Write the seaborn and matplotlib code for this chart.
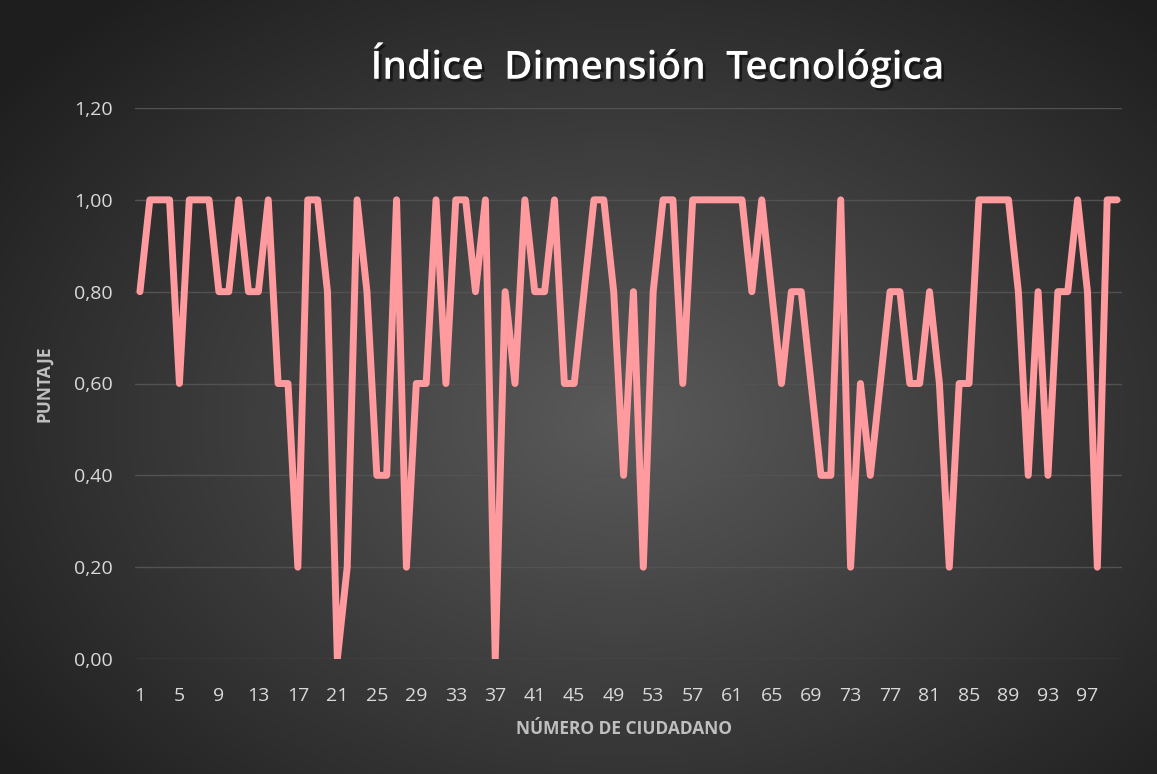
import numpy as np
import pandas as pd
import matplotlib
matplotlib.use('Agg')
import matplotlib.pyplot as plt
import matplotlib.patheffects as pe
from matplotlib.colors import LinearSegmentedColormap
import seaborn as sns

# datos
ciudadano = list(range(1, 101))
puntaje = [
    0.8, 1.0, 1.0, 1.0, 0.6, 1.0, 1.0, 1.0, 0.8, 0.8,
    1.0, 0.8, 0.8, 1.0, 0.6, 0.6, 0.2, 1.0, 1.0, 0.8,
    0.0, 0.2, 1.0, 0.8, 0.4, 0.4, 1.0, 0.2, 0.6, 0.6,
    1.0, 0.6, 1.0, 1.0, 0.8, 1.0, 0.0, 0.8, 0.6, 1.0,
    0.8, 0.8, 1.0, 0.6, 0.6, 0.8, 1.0, 1.0, 0.8, 0.4,
    0.8, 0.2, 0.8, 1.0, 1.0, 0.6, 1.0, 1.0, 1.0, 1.0,
    1.0, 1.0, 0.8, 1.0, 0.8, 0.6, 0.8, 0.8, 0.6, 0.4,
    0.4, 1.0, 0.2, 0.6, 0.4, 0.6, 0.8, 0.8, 0.6, 0.6,
    0.8, 0.6, 0.2, 0.6, 0.6, 1.0, 1.0, 1.0, 1.0, 0.8,
    0.4, 0.8, 0.4, 0.8, 0.8, 1.0, 0.8, 0.2, 1.0, 1.0,
]
x_ticks = list(range(1, 101, 4))
y_ticks = [0.0, 0.2, 0.4, 0.6, 0.8, 1.0, 1.2]

titulo = 'Índice  Dimensión  Tecnológica'
x_label = 'NÚMERO DE CIUDADANO'
y_label = 'PUNTAJE'

df = pd.DataFrame({'ciudadano': ciudadano, 'puntaje': puntaje})

sns.set_theme(style='dark')
plt.rcParams['font.family'] = ['Open Sans', 'DejaVu Sans']

W, H = 1157, 774
fig = plt.figure(figsize=(W / 100, H / 100), dpi=100)

# fondo con degradado radial
bg = fig.add_axes([0, 0, 1, 1], zorder=0)
yy, xx = np.mgrid[0:H, 0:W]
r = np.sqrt(((xx - 620) / 780) ** 2 + ((yy - 420) / 560) ** 2)
cmap = LinearSegmentedColormap.from_list('bg', ['#5a5a5a', '#3c3c3c', '#1e1e1e'])
bg.imshow(np.clip(r, 0, 1), cmap=cmap, vmin=0, vmax=1, aspect='auto')
bg.axis('off')

ax = fig.add_axes([135 / W, 1 - 659 / H, 987 / W, 551 / H], zorder=1)
ax.patch.set_alpha(0)

sns.lineplot(data=df, x='ciudadano', y='puntaje', ax=ax, color='#FF9B9E',
             linewidth=5, solid_joinstyle='round', solid_capstyle='round')

ax.set_xlim(0.5, 100.5)
ax.set_ylim(0, 1.2)
ax.set_xticks(x_ticks)
ax.set_xticklabels([str(t) for t in x_ticks])
ax.set_yticks(y_ticks)
ax.set_yticklabels([f'{v:.2f}'.replace('.', ',') for v in y_ticks])
ax.grid(axis='y', color='#525252', linewidth=1)
ax.grid(axis='x', visible=False)
for s in ax.spines.values():
    s.set_visible(False)
ax.tick_params(axis='both', colors='#d9d9d9', labelsize=14, length=0)
ax.tick_params(axis='x', pad=20)
ax.tick_params(axis='y', pad=16)

ax.set_xlabel(x_label, color='#bfbfbf', fontsize=12.5, fontweight='bold')
ax.set_ylabel(y_label, color='#bfbfbf', fontsize=12.5, fontweight='bold')
ax.xaxis.set_label_coords(0.495, -0.11)
ax.yaxis.set_label_coords(-0.083, 0.5)

fig.text(657 / W, 1 - 65 / H, titulo, color='white', fontsize=28, fontweight='semibold',
         ha='center', va='center',
         path_effects=[pe.withSimplePatchShadow(offset=(2, -2), shadow_rgbFace='black', alpha=0.5)])

fig.savefig('out.png', dpi=100)
